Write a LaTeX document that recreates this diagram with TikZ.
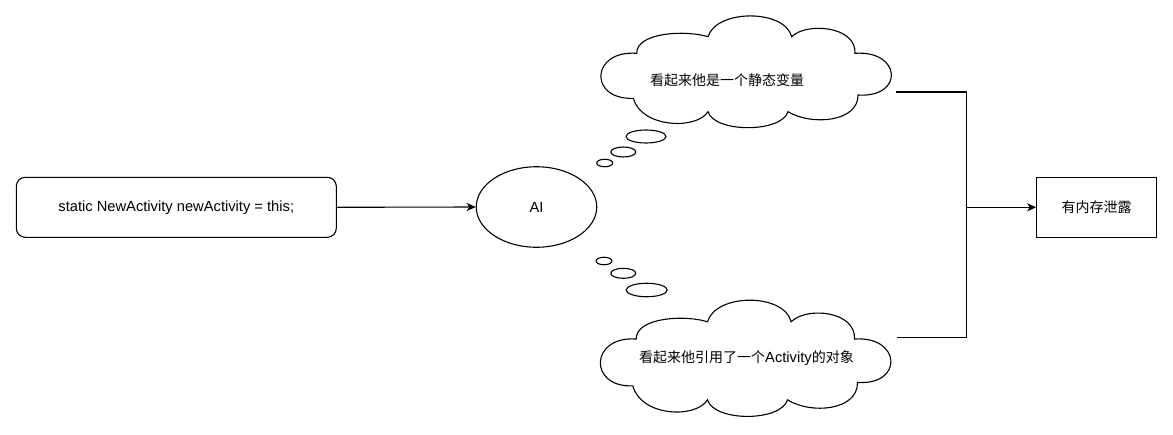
\documentclass[tikz,border=0pt]{standalone}
\usepackage{fontspec}
\setmainfont{Liberation Sans}
\newfontfamily\cjk{Noto Sans CJK SC}
\usetikzlibrary{arrows.meta,shapes.geometric}
\tikzset{
  ln/.style={line width=1.1pt,draw=black},
  arr/.style={ln,-{Stealth[length=9pt,width=8pt,inset=2.5pt]}},
  txt/.style={font=\fontsize{14.7}{17}\selectfont,inner sep=0pt},
  codebox/.style={ln,rounded corners=9pt,minimum width=320pt,minimum height=60pt,txt},
  plainbox/.style={ln,minimum width=120pt,minimum height=60pt,txt},
  oval/.style={ln,ellipse,inner sep=0pt,txt},
  bubble/.style={ln,ellipse,inner sep=0pt},
}
\newcommand\mycloud[3]{%
  \begin{scope}[shift={(#1,#2)},yscale=#3]
  \draw[ln,fill=white] (-109.8,-18.7)
    .. controls (-110,-40) and (-60,-42) .. (-38.5,-35.3)
    .. controls (-30,-63) and (38,-63) .. (45.2,-35.3)
    .. controls (60,-50) and (110,-46) .. (108.5,-18.7)
    .. controls (155,-22) and (158,26) .. (111.5,23)
    .. controls (112,50) and (65,54) .. (41.5,39.7)
    .. controls (35,61) and (-32,61) .. (-38.5,39.7)
    .. controls (-50,58) and (-105,56) .. (-113.2,26.3)
    .. controls (-158,28) and (-156,-22) .. (-109.8,-18.7) -- cycle;
  \end{scope}}
\begin{document}
\begin{tikzpicture}[x=1pt,y=-1pt]
\fill[white] (0,0) rectangle (1173,434);
\useasboundingbox (0,0) rectangle (1173,434);

% clouds
\mycloud{746.5}{72}{1}
\mycloud{746}{358.5}{1.04}
\node[txt] (t1) at (727,80) {\cjk\fontsize{14}{17}\selectfont 看起来他是一个静态变量};
\node[txt] (t2) at (746.5,358) {{\cjk\fontsize{14}{17}\selectfont 看起来他引用了一个}Activity{\cjk\fontsize{14}{17}\selectfont 的对象}};

% thought bubbles
\node[bubble,minimum width=40pt,minimum height=13pt] (b1) at (646,136.5) {};
\node[bubble,minimum width=25pt,minimum height=10pt] (b2) at (623.3,152) {};
\node[bubble,minimum width=16pt,minimum height=7.5pt] (b3) at (604.7,163) {};
\node[bubble,minimum width=16pt,minimum height=7.5pt] (b4) at (604,261) {};
\node[bubble,minimum width=25pt,minimum height=10pt] (b5) at (623.3,273.3) {};
\node[bubble,minimum width=41pt,minimum height=13.5pt] (b6) at (646.7,290) {};

% main nodes
\node[codebox] (code) at (176.3,207.3) {static NewActivity newActivity = this;};
\node[oval,minimum width=120.5pt,minimum height=80.5pt] (ai) at (536.5,207) {AI};
\node[plainbox] (leak) at (1096.7,207.3) {\cjk\fontsize{14}{17}\selectfont 有内存泄露};

% connectors
\coordinate (c1r) at (896,92);
\coordinate (c2r) at (897,337.3);
\coordinate (j) at (966.7,207.3);
\draw[arr] (code.east) -- (ai.west);
\draw[ln] (c1r) -| (j);
\draw[ln] (c2r) -| (j);
\draw[arr] (j) -- (leak.west);
\end{tikzpicture}
\end{document}
